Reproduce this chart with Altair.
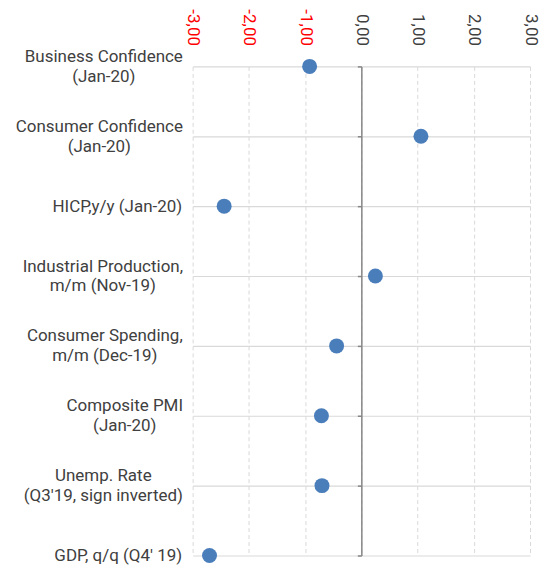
import json
import altair as alt
import pandas as pd

# category labels (top to bottom); "|" separates the two lines of a label
categories = [
    "Business Confidence|(Jan-20)",
    "Consumer Confidence|(Jan-20)",
    "HICP,y/y (Jan-20)",
    "Industrial Production,|m/m (Nov-19)",
    "Consumer Spending,|m/m (Dec-19)",
    "Composite PMI|(Jan-20)",
    "Unemp. Rate|(Q3'19, sign inverted)",
    "GDP, q/q (Q4' 19)",
]
values = [-0.92, 1.06, -2.44, 0.25, -0.44, -0.71, -0.70, -2.70]
x_ticks = [-3, -2, -1, 0, 1, 2, 3]

# layout only: approximate pixel width of the longest line of each two-line
# label, used to centre the lines on each other while keeping the block
# flush right against the plot (as in the reference)
long_line_width = [157, 166, 0, 159, 155, 115, 158, 0]

df = pd.DataFrame({"cat": categories, "val": values})

FONT = "Roboto"
TEXT = "#404040"
LABEL_GAP = 11

multi_test = "indexof(datum.label, '|') >= 0"
pad_conditions = [
    {"test": "datum.label === " + json.dumps(c), "value": LABEL_GAP + w / 2}
    for c, w in zip(categories, long_line_width)
    if "|" in c
]

yscale = alt.Scale(type="point", domain=categories, padding=0)

points = alt.Chart(df).mark_circle(size=225, color="#4a7ebb", opacity=1).encode(
    x=alt.X(
        "val:Q",
        scale=alt.Scale(domain=[-3, 3], nice=False),
        axis=alt.Axis(
            orient="top",
            values=x_ticks,
            title=None,
            domain=False,
            ticks=False,
            labelAngle=90,
            labelAlign="right",
            labelBaseline="middle",
            labelPadding=21,
            labelFont=FONT,
            labelFontSize=17,
            labelColor={"condition": {"test": "datum.value < 0", "value": "#ff0000"}, "value": TEXT},
            labelExpr="(datum.value < 0 ? '-' : '') + replace(format(abs(datum.value), '.2f'), '.', ',')",
            grid=True,
            gridColor="#d9d9d9",
            gridDash=[4, 3],
            gridWidth=1,
        ),
    ),
    y=alt.Y(
        "cat:N",
        scale=yscale,
        axis=alt.Axis(
            orient="left",
            title=None,
            domain=False,
            ticks=False,
            labelFont=FONT,
            labelFontSize=17,
            labelColor=TEXT,
            labelAlign={"condition": {"test": multi_test, "value": "center"}, "value": "right"},
            labelPadding={"condition": pad_conditions, "value": LABEL_GAP},
            labelLineHeight=20,
            labelOffset={"condition": {"test": multi_test, "value": -10}, "value": 0},
            labelExpr="split(datum.label, '|')",
            labelLimit=400,
            grid=True,
            gridColor="#d9d9d9",
            gridWidth=1.2,
        ),
    ),
)

zero_axis = alt.Chart(df).mark_circle(opacity=0).encode(
    y=alt.Y(
        "cat:N",
        scale=yscale,
        axis=alt.Axis(
            orient="left",
            offset=-169,
            title=None,
            labels=False,
            grid=False,
            domain=True,
            domainColor="#868686",
            domainWidth=1.5,
            ticks=True,
            tickSize=4,
            tickColor="#868686",
            tickWidth=1.5,
        ),
    ),
)

chart = (
    alt.layer(zero_axis, points)
    .resolve_axis(y="independent")
    .properties(width=338, height=490, padding={"left": 7, "top": 0, "right": 5, "bottom": 5})
    .configure_view(stroke=None)
)

chart.save("out.html", embed_options={"renderer": "svg", "actions": False})
